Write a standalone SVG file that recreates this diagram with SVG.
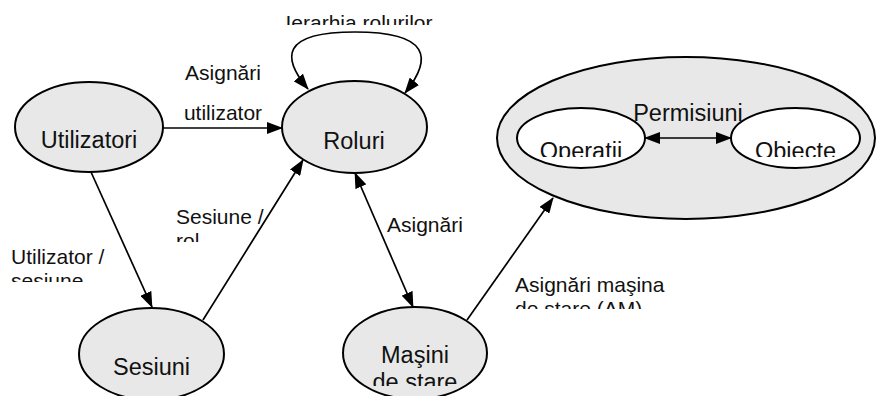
<svg xmlns="http://www.w3.org/2000/svg" width="876" height="396" viewBox="0 0 876 396">
<style>
.node{fill:#e8e8e8;stroke:#000;stroke-width:2}
.inner{fill:#fff;stroke:#000;stroke-width:2}
.nt{font-family:"Liberation Sans",Arial,sans-serif;font-size:23.5px;fill:#111;text-anchor:middle}
.lb{font-family:"Liberation Sans",Arial,sans-serif;font-size:21px;fill:#111}
.c{fill:none;stroke:#000;stroke-width:1.7}
</style>
<defs>
<marker id="ah" markerUnits="userSpaceOnUse" markerWidth="16" markerHeight="12" refX="15" refY="6" orient="auto-start-reverse">
<path d="M0,0 L16,6 L0,12 z" fill="#000"/>
</marker>
<clipPath id="cIer"><rect x="0" y="0" width="876" height="25"/></clipPath>
<clipPath id="cPerm"><rect x="0" y="0" width="876" height="157"/></clipPath>
<clipPath id="cSes"><rect x="0" y="0" width="876" height="242"/></clipPath>
<clipPath id="cUs"><rect x="0" y="0" width="876" height="282"/></clipPath>
<clipPath id="cAM"><rect x="0" y="0" width="876" height="309"/></clipPath>
<clipPath id="cMas"><rect x="0" y="0" width="876" height="386"/></clipPath>
</defs>

<g id="permisiuni">
<ellipse class="node" cx="686" cy="138" rx="189" ry="81"/>
</g>
<g id="utilizatori">
<ellipse class="node" cx="89" cy="127" rx="74" ry="45"/>
<text class="nt" x="89" y="148">Utilizatori</text>
</g>
<g id="roluri">
<ellipse class="node" cx="354.5" cy="127" rx="72.5" ry="46"/>
<text class="nt" x="354" y="149">Roluri</text>
</g>
<g id="sesiuni">
<ellipse class="node" cx="151.5" cy="354" rx="72.5" ry="46"/>
<text class="nt" x="151.5" y="375">Sesiuni</text>
</g>
<g id="masini">
<ellipse class="node" cx="415" cy="353" rx="72" ry="46"/>
<g clip-path="url(#cMas)">
<text class="nt" x="415" y="363">Maşini</text>
<text class="nt" x="415" y="390">de stare</text>
</g>
</g>
<g id="operatii">
<ellipse class="inner" cx="581" cy="138" rx="64" ry="30"/>
<text class="nt" x="581" y="159" clip-path="url(#cPerm)">Operatii</text>
</g>
<g id="obiecte">
<ellipse class="inner" cx="795.5" cy="138" rx="64.5" ry="30"/>
<text class="nt" x="795.5" y="159" clip-path="url(#cPerm)">Obiecte</text>
</g>
<text class="nt" x="688" y="121">Permisiuni</text>

<g id="connectors">
<path class="c" d="M308 89 C282 58 280 32 355 32 C430 32 433 58 405 93" marker-start="url(#ah)" marker-end="url(#ah)"/>
<line class="c" x1="163" y1="128" x2="282" y2="128" marker-end="url(#ah)"/>
<line class="c" x1="91" y1="172" x2="152" y2="307" marker-end="url(#ah)"/>
<line class="c" x1="203" y1="320" x2="303" y2="160" marker-end="url(#ah)"/>
<line class="c" x1="355" y1="173" x2="413" y2="307" marker-start="url(#ah)" marker-end="url(#ah)"/>
<line class="c" x1="467" y1="320" x2="553" y2="198" marker-end="url(#ah)"/>
<line class="c" x1="645" y1="138" x2="731" y2="138" marker-start="url(#ah)" marker-end="url(#ah)"/>
</g>

<g id="labels">
<text class="lb" x="359" y="30" text-anchor="middle" clip-path="url(#cIer)">Ierarhia rolurilor</text>
<text class="lb" x="223" y="80" text-anchor="middle">Asignări</text>
<text class="lb" x="223" y="120" text-anchor="middle">utilizator</text>
<g clip-path="url(#cSes)">
<text class="lb" x="176" y="224">Sesiune /</text>
<text class="lb" x="176" y="248">rol</text>
</g>
<g clip-path="url(#cUs)">
<text class="lb" x="11" y="264">Utilizator /</text>
<text class="lb" x="11" y="288">sesiune</text>
</g>
<text class="lb" x="387" y="232">Asignări</text>
<g clip-path="url(#cAM)">
<text class="lb" x="515" y="292">Asignări maşina</text>
<text class="lb" x="515" y="316">de stare (AM)</text>
</g>
</g>
</svg>
